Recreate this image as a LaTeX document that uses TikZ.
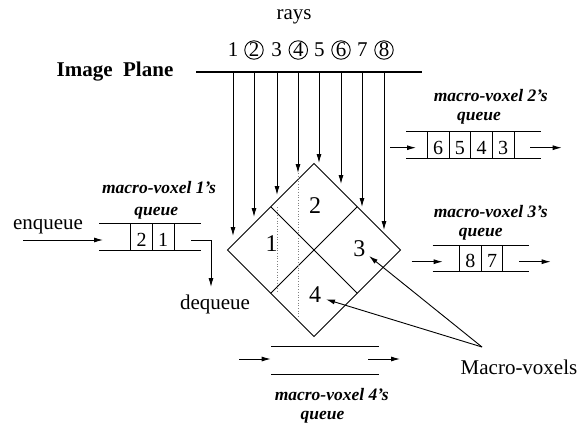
\documentclass[tikz,border=0pt]{standalone}
\usepackage{fontspec}
\setmainfont{Liberation Serif}
\usetikzlibrary{arrows.meta,calc}
\begin{document}
\begin{tikzpicture}[x=1pt,y=-1pt]
\tikzset{
 ln/.style={line width=0.9pt},
 arr/.style={ln,-{Latex[length=9pt,width=5pt]}},
 lbl/.style={font=\fontsize{17.5}{17.5}\bfseries\itshape\selectfont, anchor=base, inner sep=0},
 txt/.style={font=\fontsize{21}{21}\selectfont, anchor=base, inner sep=0},
 qd/.style={font=\fontsize{20}{20}\selectfont, anchor=base, inner sep=0},
 dd/.style={font=\fontsize{24}{24}\selectfont, anchor=base, inner sep=0},
 rn/.style={font=\fontsize{21}{21}\selectfont, inner sep=0},
 rc/.style={rn, circle, draw, ln, minimum size=18.5pt},
 dots/.style={dotted, line width=0.7pt, gray},
}
\path[use as bounding box] (0,0) rectangle (580,424);

% image plane and rays
\node[font=\fontsize{21}{21}\bfseries\selectfont, anchor=base, inner sep=0] (ip) at (115,76.7) {Image\ \ Plane};
\coordinate (ipl) at (196,72);
\coordinate (ipr) at (422,72);
\draw[line width=1.5pt] (ipl) -- (ipr);
\node[txt] (rays) at (294,19.3) {rays};
\foreach \i/\x/\y in {1/233/236, 2/254/217, 3/277/195, 4/298/173, 5/319/163, 6/341/184, 7/362/207, 8/384/230} {
  \coordinate (rs\i) at (\x,72);
  \coordinate (re\i) at (\x,\y);
  \draw[arr] (rs\i) -- (re\i);
}
\node[rn] (n1) at (233,50) {1};
\node[rc] (n2) at (254,50) {2};
\node[rn] (n3) at (276.7,50) {3};
\node[rc] (n4) at (298.3,50) {4};
\node[rn] (n5) at (319.3,50) {5};
\node[rc] (n6) at (341,50) {6};
\node[rn] (n7) at (362.3,50) {7};
\node[rc] (n8) at (384,50) {8};

% diamond
\coordinate (L) at (227.5,250);
\coordinate (T) at (314,163.5);
\coordinate (R) at (400.5,250);
\coordinate (B) at (314,336.5);
\draw[ln] (L) -- (T) -- (R) -- (B) -- cycle;
\draw[ln] ($(L)!0.5!(T)$) -- ($(R)!0.5!(B)$);
\draw[ln] ($(T)!0.5!(R)$) -- ($(B)!0.5!(L)$);
\coordinate (d1a) at (277,207); \coordinate (d1b) at (277,292);
\coordinate (d2a) at (298,173); \coordinate (d2b) at (298,317);
\draw[dots] (d1a) -- (d1b);
\draw[dots] (d2a) -- (d2b);
\node[dd] (v2) at (315,213.3) {2};
\node[dd] (v1) at (271.7,251) {1};
\node[dd] (v3) at (359.3,256.7) {3};
\node[dd] (v4) at (315,302.3) {4};

% queue 1
\draw[ln] (99,223.3) -- (201,223.3) (99,250) -- (201,250);
\foreach \x in {130.7,152.3,174} \draw[ln] (\x,223.3) -- (\x,250);
\node[qd] (q1a) at (141.5,246) {2};
\node[qd] (q1b) at (163,246) {1};
\coordinate (enqs) at (23,240); \coordinate (enqe) at (103,240);
\draw[arr] (enqs) -- (enqe);
\coordinate (deqs) at (191,240); \coordinate (deqe) at (211,287);
\draw[arr] (deqs) -| (deqe);
\node[txt] (enq) at (48,229.3) {enqueue};
\node[txt] (deq) at (215,309.3) {dequeue};
\node[lbl] (l1a) at (159,193.3) {macro-voxel 1’s};
\node[lbl] (l1b) at (156.3,215.7) {queue};

% queue 2
\draw[ln] (406,131.7) -- (540.7,131.7) (406,158.3) -- (540.7,158.3);
\foreach \x in {427.3,449,470.7,492.3,514} \draw[ln] (\x,131.7) -- (\x,158.3);
\node[qd] (q2a) at (438.2,154.3) {6};
\node[qd] (q2b) at (459.8,154.3) {5};
\node[qd] (q2c) at (481.5,154.3) {4};
\node[qd] (q2d) at (503.2,154.3) {3};
\coordinate (q2is) at (390,147.7); \coordinate (q2ie) at (416,147.7);
\coordinate (q2os) at (530,147.7); \coordinate (q2oe) at (561.7,147.7);
\draw[arr] (q2is) -- (q2ie);
\draw[arr] (q2os) -- (q2oe);
\node[lbl] (l2a) at (490.8,101.7) {macro-voxel 2’s};
\node[lbl] (l2b) at (479,120) {queue};

% queue 3
\draw[ln] (432.7,245) -- (529.3,245) (432.7,271.7) -- (529.3,271.7);
\foreach \x in {459.3,481.3,502.7} \draw[ln] (\x,245) -- (\x,271.7);
\node[qd] (q3a) at (470.3,267.7) {8};
\node[qd] (q3b) at (492,267.7) {7};
\coordinate (q3is) at (411.7,261.7); \coordinate (q3ie) at (442.7,261.7);
\coordinate (q3os) at (519.3,261.7); \coordinate (q3oe) at (550.7,261.7);
\draw[arr] (q3is) -- (q3ie);
\draw[arr] (q3os) -- (q3oe);
\node[lbl] (l3a) at (490.8,217.3) {macro-voxel 3’s};
\node[lbl] (l3b) at (480.8,236) {queue};

% queue 4
\draw[ln] (271,346.7) -- (379,346.7) (271,374.3) -- (379,374.3);
\coordinate (q4is) at (239.3,359); \coordinate (q4ie) at (270.7,359);
\coordinate (q4os) at (368.3,359); \coordinate (q4oe) at (400,359);
\draw[arr] (q4is) -- (q4ie);
\draw[arr] (q4os) -- (q4oe);
\node[lbl] (l4a) at (331.7,400.7) {macro-voxel 4’s};
\node[lbl] (l4b) at (322.5,419) {queue};

% macro-voxels pointer
\node[txt] (mv) at (519,374.3) {Macro-voxels};
\coordinate (mvp) at (482,347);
\coordinate (t4) at (326,299.3);
\coordinate (t3) at (369,256);
\draw[arr] (mvp) -- (t4);
\draw[arr] (mvp) -- (t3);
\end{tikzpicture}
\end{document}
